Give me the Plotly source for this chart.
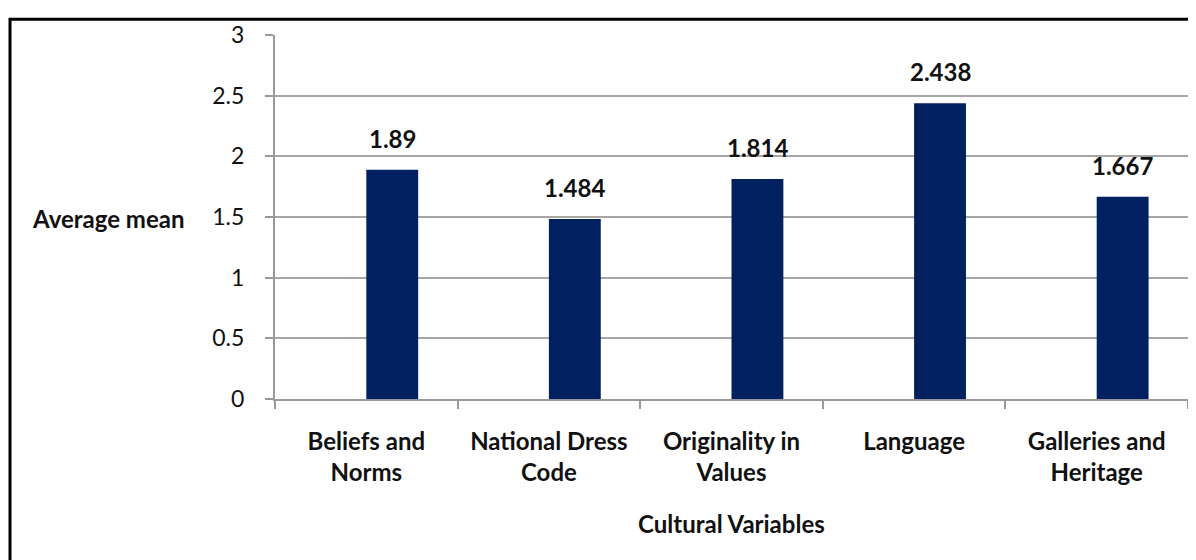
import plotly.graph_objects as go

categories = ["Beliefs and<br>Norms", "National Dress<br>Code", "Originality in<br>Values", "Language", "Galleries and<br>Heritage"]
values = [1.89, 1.484, 1.814, 2.438, 1.667]
value_labels = ["1.89", "1.484", "1.814", "2.438", "1.667"]
y_ticks = [0, 0.5, 1, 1.5, 2, 2.5, 3]
y_tick_labels = ["0", "0.5", "1", "1.5", "2", "2.5", "3"]

FONT = "Lato"
FS = 24
BAR_W = 0.284
OFF = 8  # page body margin
W, H = 1196, 560
ML, MR, MT, MB = 275 - OFF, 16, 27 - OFF, 169
PW, PH = W - ML - MR, H - MT - MB

def px_x(x):
    return (x - OFF - ML) / PW

def px_y(y):
    return (OFF + H - MB - y) / PH

fig = go.Figure()
fig.add_trace(go.Bar(
    x=categories, y=values,
    width=BAR_W, offset=0,
    marker=dict(color="#002060", line=dict(width=0)),
    hoverinfo="skip",
))

for i, (v, t) in enumerate(zip(values, value_labels)):
    fig.add_annotation(x=i + BAR_W / 2, y=v, text="<b>%s</b>" % t, showarrow=False,
                       yanchor="bottom", yshift=15, xref="x", yref="y",
                       font=dict(family=FONT, size=FS, color="#111111"))

fig.add_annotation(x=px_x(30), y=px_y(215), xref="paper", yref="paper", text="<b>Average mean</b>",
                   showarrow=False, xanchor="left", yanchor="middle",
                   font=dict(family=FONT, size=FS, color="#111111"))
fig.add_annotation(x=0.5, y=px_y(526), xref="paper", yref="paper", text="<b>Cultural Variables</b>",
                   showarrow=False, xanchor="center", yanchor="middle",
                   font=dict(family=FONT, size=FS, color="#111111"))

fig.add_shape(type="rect", xref="paper", yref="paper",
              x0=px_x(10), x1=px_x(1300), y0=px_y(700), y1=px_y(11),
              line=dict(color="black", width=3), fillcolor="rgba(0,0,0,0)", layer="above")

fig.update_layout(
    width=W, height=H,
    margin=dict(l=ML, r=MR, t=MT, b=MB, pad=0),
    paper_bgcolor="white", plot_bgcolor="white",
    showlegend=False,
    xaxis=dict(
        type="category",
        categoryorder="array", categoryarray=categories,
        tickmode="array", tickvals=categories,
        ticktext=["<b>%s</b>" % c for c in categories],
        tickson="boundaries", ticks="outside", ticklen=8, tickcolor="#999999", tickwidth=2,
        showline=True, linecolor="#999999", linewidth=2,
        showgrid=False, zeroline=False,
        ticklabelstandoff=20,
        tickfont=dict(family=FONT, size=FS, color="#111111"),
    ),
    yaxis=dict(
        range=[0, 3],
        tickmode="array", tickvals=y_ticks, ticktext=y_tick_labels,
        ticks="outside", ticklen=8, tickcolor="#999999", tickwidth=2,
        showline=True, linecolor="#999999", linewidth=2,
        showgrid=True, gridcolor="#a6a6a6", gridwidth=2,
        zeroline=False,
        ticklabelstandoff=16,
        tickfont=dict(family=FONT, size=23, color="#111111"),
    ),
)

fig.write_html("out.html")
